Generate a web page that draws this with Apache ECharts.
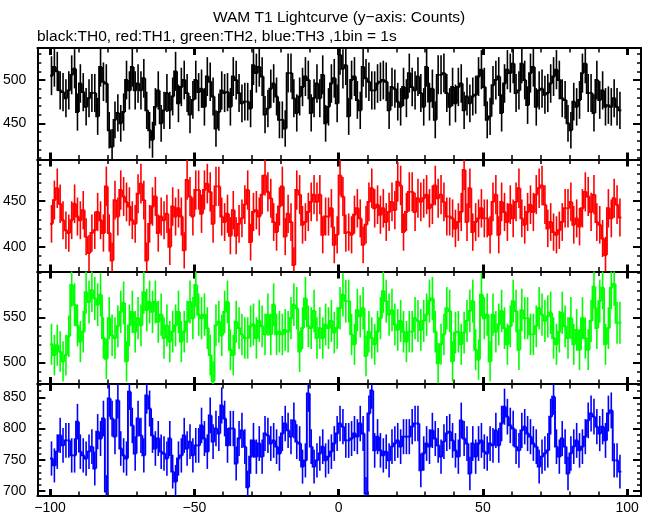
<!DOCTYPE html>
<html><head><meta charset="utf-8">
<script src="https://cdn.jsdelivr.net/npm/echarts@6/dist/echarts.min.js"></script>
<style>html,body{margin:0;padding:0;background:#fff}#c{width:653px;height:515px}</style>
</head><body><div id="c"></div>
<script>
const titleText = 'WAM T1 Lightcurve (y\u2212axis: Counts)';
const subtitleText = 'black:TH0, red:TH1, green:TH2, blue:TH3 ,1bin = 1s';
const binStart = -100;   // left edge of first 1 s bin
const binWidth = 1;

const xMajorTicks = [-100, -50, 0, 50, 100];
const xMinorTicks = [-90,-80,-70,-60,-40,-30,-20,-10,10,20,30,40,60,70,80,90];

// TH0 (black) counts per 1 s bin
const th0 = [
505,515,510,488,486,479,488,506,513,463,
496,486,469,479,485,485,458,515,498,496,
442,423,454,462,450,463,500,488,515,488,
496,488,502,465,442,431,469,488,450,465,
485,465,481,510,473,492,500,485,460,477,
500,486,490,469,504,498,481,444,463,488,
485,486,469,504,500,485,
473,475,475,467,517,508,515,504,460,467,
490,496,481,454,454,444,508,508,479,462,
481,492,504,500,462,479,496,479,506,450,
469,496,502,473,529,513,517,458,500,504,
477,465,515,502,498,488,488,496,498,500,
498,465,492,490,475,469,492,479,508,492,
488,504,485,469,515,475,
490,
454,506,506,508,485,469,492,473,492,496,
465,481,473,481,483,504,512,492,454,458,
494,500,504,462,496,512,508,519,485,488,
519,500,471,508,515,469,488,490,483,485,
496,504,512,500,479,477,450,442,475,469,
477,508,519,485,485,462,500,477,488,469,
471,469,479,469,465
];
// TH1 (red)
const th1 = [
425,451,464,447,429,418,415,429,447,433,
429,440,411,393,415,418,438,429,415,466,
415,385,451,433,462,455,449,444,429,425,
458,469,451,385,425,444,455,415,433,429,
436,400,444,433,442,433,396,473,455,433,
462,462,436,462,469,460,425,466,466,433,
427,436,412,440,412,425,
431,446,462,405,438,440,433,457,478,460,
453,427,416,444,466,411,436,427,380,462,
457,424,427,438,449,457,449,457,413,433,
433,442,402,413,478,455,415,416,413,435,
442,431,402,424,449,464,442,446,435,442,
427,438,449,440,471,467,416,438,460,460,
438,453,449,453,457,442,
446,
467,453,457,449,433,433,431,420,427,438,
484,427,464,416,427,431,442,431,431,413,
449,457,413,449,438,427,446,431,449,464,
431,424,438,446,438,457,464,467,446,420,
427,416,413,418,427,442,442,449,424,431,
422,442,460,455,438,457,427,424,409,391,
442,431,453,446,432
];
// TH2 (green)
const th2 = [
520,508,519,512,501,508,529,586,564,541,
523,534,578,567,580,571,564,575,527,504,
549,530,527,540,556,566,501,541,556,534,
549,541,578,558,567,556,567,545,553,527,
541,523,534,541,556,523,534,545,567,549,
586,553,549,553,538,508,479,541,545,530,
556,567,514,508,545,538,
531,527,527,540,542,527,546,540,531,553,
531,564,531,534,531,536,534,549,564,560,
512,538,571,540,538,557,527,538,527,542,
538,546,533,538,560,575,568,568,531,520,
558,551,560,507,534,527,520,534,549,579,
568,553,558,542,536,546,534,523,534,534,
549,546,536,546,553,568,
571,
534,499,520,531,560,557,501,533,534,520,
533,546,557,568,514,503,575,549,553,501,
553,534,542,557,538,520,540,568,557,514,
558,549,549,531,531,540,560,553,546,551,
555,527,520,534,555,540,527,549,520,536,
514,549,527,514,546,584,538,568,583,520,
538,583,587,544,544
];
// TH3 (blue)
const th3 = [
752,741,763,789,773,781,781,757,757,811,
763,757,752,763,771,736,795,784,816,699,
848,816,787,845,768,757,752,859,805,760,
816,789,757,853,832,789,768,784,763,760,
752,784,731,715,752,757,789,768,779,757,
773,773,805,784,763,821,779,800,792,837,
816,773,800,800,744,784,
797,771,706,755,781,755,776,755,792,789,
776,781,771,760,792,808,797,787,813,779,
776,739,749,856,771,739,749,760,771,749,
755,763,776,792,808,803,781,781,784,792,
787,808,792,696,824,861,765,787,765,757,
763,749,771,776,781,771,787,787,787,803,
808,808,733,760,776,771,
797,
784,773,755,779,792,795,781,765,755,813,
784,776,728,776,755,776,781,763,760,776,
773,797,773,808,835,819,805,800,771,765,
797,803,792,787,776,771,739,755,760,765,
819,851,771,755,784,771,728,760,771,781,
765,771,787,813,824,819,803,792,803,781,
824,829,749,749,731
];

const th0Ticks = [450, 500];
const th1Ticks = [400, 450];
const th2Ticks = [500, 550];
const th3Ticks = [700, 750, 800, 850];
const th0Minor = [410,420,430,440,460,470,480,490,510,520,530];
const th1Minor = [380,390,410,420,430,440,460,470,480,490];
const th2Minor = [480,490,510,520,530,540,560,570,580,590,600];
const th3Minor = [710,720,730,740,760,770,780,790,810,820,830,840,860,870];

const panels = [
  {data: th0, color: '#000000', min: 408.2, max: 537.0, ticks: th0Ticks, minor: th0Minor, top: 48,    height: 111.5},
  {data: th1, color: '#ff0000', min: 372.9, max: 495.4, ticks: th1Ticks, minor: th1Minor, top: 159.5, height: 112},
  {data: th2, color: '#00ff00', min: 475.9, max: 600.9, ticks: th2Ticks, minor: th2Minor, top: 271.5, height: 112.5},
  {data: th3, color: '#0000ff', min: 692.0, max: 871.3, ticks: th3Ticks, minor: th3Minor, top: 384,   height: 112}
];
const X_MIN = -104.4, X_MAX = 104.8;
const FONT = 'Liberation Sans, Arial, Helvetica, sans-serif';
const LW = 1.9;
const ERR_LW = 1.6;

const chart = echarts.init(document.getElementById('c'), null, {renderer: 'canvas'});

const grids = [], xAxes = [], yAxes = [], series = [];
const lineBlack = {color: '#000', width: 2};

panels.forEach((p, i) => {
  grids.push({left: 37, right: 12, top: p.top, height: p.height, containLabel: false});
  const xBase = {gridIndex: i, type: 'value', min: X_MIN, max: X_MAX, splitLine: {show: false}};
  xAxes.push(Object.assign({}, xBase, {
    position: 'bottom',
    axisLine: {show: true, onZero: false, lineStyle: lineBlack},
    axisTick: {show: true, inside: true, length: 7, customValues: xMajorTicks, lineStyle: {color: '#000', width: 3}},
    axisLabel: {show: i === 3, customValues: xMajorTicks, margin: 5, color: '#000', fontSize: 14, fontFamily: FONT,
      formatter: v => String(v).replace('-', '\u2212')}
  }));
  xAxes.push(Object.assign({}, xBase, {
    position: 'bottom',
    axisLine: {show: false, onZero: false},
    axisTick: {show: true, inside: true, length: 4.5, customValues: xMinorTicks, lineStyle: {color: '#000', width: 1.5}},
    axisLabel: {show: false}
  }));
  xAxes.push(Object.assign({}, xBase, {
    position: 'top',
    axisLine: {show: true, onZero: false, lineStyle: lineBlack},
    axisTick: {show: true, inside: true, length: 7, customValues: xMajorTicks, lineStyle: {color: '#000', width: 3}},
    axisLabel: {show: false}
  }));
  xAxes.push(Object.assign({}, xBase, {
    position: 'top',
    axisLine: {show: false, onZero: false},
    axisTick: {show: true, inside: true, length: 4.5, customValues: xMinorTicks, lineStyle: {color: '#000', width: 1.5}},
    axisLabel: {show: false}
  }));

  const yBase = {gridIndex: i, type: 'value', min: p.min, max: p.max, splitLine: {show: false}};
  yAxes.push(Object.assign({}, yBase, {
    position: 'left',
    axisLine: {show: true, onZero: false, lineStyle: lineBlack},
    axisTick: {show: true, inside: true, length: 8, customValues: p.ticks, lineStyle: {color: '#000', width: 2}},
    axisLabel: {show: true, customValues: p.ticks, margin: 11, color: '#000', fontSize: 14, fontFamily: FONT}
  }));
  yAxes.push(Object.assign({}, yBase, {
    position: 'left',
    axisLine: {show: false, onZero: false},
    axisTick: {show: true, inside: true, length: 4, customValues: p.minor, lineStyle: {color: '#000', width: 1.5}},
    axisLabel: {show: false}
  }));
  yAxes.push(Object.assign({}, yBase, {
    position: 'right',
    axisLine: {show: true, onZero: false, lineStyle: lineBlack},
    axisTick: {show: true, inside: true, length: 8, customValues: p.ticks, lineStyle: {color: '#000', width: 2}},
    axisLabel: {show: false}
  }));
  yAxes.push(Object.assign({}, yBase, {
    position: 'right',
    axisLine: {show: false, onZero: false},
    axisTick: {show: true, inside: true, length: 4, customValues: p.minor, lineStyle: {color: '#000', width: 1.5}},
    axisLabel: {show: false}
  }));

  const arr = p.data;
  series.push({
    type: 'custom',
    xAxisIndex: i * 4,
    yAxisIndex: i * 4,
    silent: true,
    animation: false,
    itemStyle: {color: p.color},
    data: arr.map((v, k) => [binStart + binWidth * (k + 0.5), v, Math.sqrt(v)]),
    renderItem: function (params, api) {
      const k = params.dataIndex;
      const x = api.value(0), y = api.value(1), e = api.value(2);
      const cs = params.coordSys;
      const clampY = t => Math.max(cs.y, Math.min(cs.y + cs.height, t));
      const L = api.coord([x - binWidth / 2, y]);
      const R = api.coord([x + binWidth / 2, y]);
      const T = api.coord([x, y + e]);
      const B = api.coord([x, y - e]);
      const pts = [];
      if (k > 0) {
        const P = api.coord([x - binWidth / 2, arr[k - 1]]);
        pts.push([P[0], P[1]]);
      }
      pts.push([L[0], L[1]], [R[0], R[1]]);
      return {
        type: 'group',
        children: [
          {type: 'polyline', shape: {points: pts}, style: {stroke: p.color, lineWidth: LW, fill: null}},
          {type: 'line', shape: {x1: T[0], y1: clampY(T[1]), x2: B[0], y2: clampY(B[1])}, style: {stroke: p.color, lineWidth: ERR_LW}}
        ]
      };
    }
  });
});

chart.setOption({
  animation: false,
  backgroundColor: '#ffffff',
  grid: grids,
  xAxis: xAxes,
  yAxis: yAxes,
  series: series,
  graphic: [
    {type: 'text', x: 339, y: 18, style: {text: titleText, fill: '#000', font: '15.5px ' + FONT, align: 'center', verticalAlign: 'middle', textAlign: 'center', textVerticalAlign: 'middle'}},
    {type: 'text', x: 37, y: 37, style: {text: subtitleText, fill: '#000', font: '15.5px ' + FONT, align: 'left', verticalAlign: 'middle', textAlign: 'left', textVerticalAlign: 'middle'}}
  ]
});
</script>
</body></html>
